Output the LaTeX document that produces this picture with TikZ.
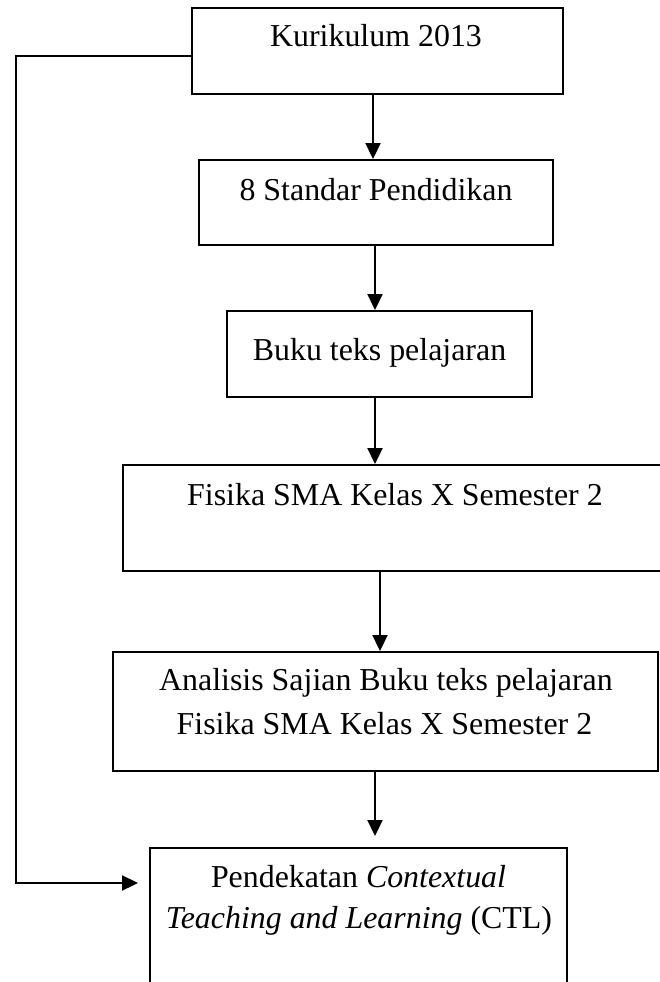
\documentclass[tikz,border=0pt]{standalone}
\usepackage{fontspec}
\setmainfont{Liberation Serif}
\usetikzlibrary{arrows.meta}
\begin{document}
\begin{tikzpicture}[x=1pt,y=-1pt,
  box/.style={draw,line width=1.9pt,inner sep=0pt,rectangle},
  lbl/.style={anchor=base,inner sep=0pt,font=\fontsize{31.9}{38}\selectfont},
  arr/.style={line width=1.9pt,-{Triangle[length=16pt,width=15pt]}}]
\useasboundingbox (0,0) rectangle (659,982);
% boxes
\node[box,minimum width=371pt,minimum height=86pt] (b1) at (377.5,51) {};
\node[box,minimum width=354pt,minimum height=85pt] (b2) at (376,202.5) {};
\node[box,minimum width=305pt,minimum height=86pt] (b3) at (379.5,354) {};
\node[box,minimum width=557pt,minimum height=106pt] (b4) at (401.5,518) {};
\node[box,minimum width=545pt,minimum height=119pt] (b5) at (385.5,711.5) {};
\node[box,minimum width=417pt,minimum height=152pt] (b6) at (358.5,924) {};
% labels
\node[lbl] (t1) at (376,47) {Kurikulum 2013};
\node[lbl] (t2) at (376,200) {8 Standar Pendidikan};
\node[lbl] (t3) at (379.5,360) {Buku teks pelajaran};
\node[lbl] (t4) at (395,505) {Fisika SMA Kelas X Semester 2};
\node[lbl] (t5a) at (386,690) {Analisis Sajian Buku teks pelajaran};
\node[lbl] (t5b) at (384.5,734) {Fisika SMA Kelas X Semester 2};
\node[lbl] (t6a) at (358.5,887) {Pendekatan \textit{Contextual}};
\node[lbl] (t6b) at (359,928) {\textit{Teaching and Learning} (CTL)};
% connectors
\draw[arr] (b1.south -| 373,0) -- (b2.north -| 373,0);
\draw[arr] (b2.south -| 375,0) -- (b3.north -| 375,0);
\draw[arr] (b3.south -| 375,0) -- (b4.north -| 375,0);
\draw[arr] (b4.south -| 380,0) -- (b5.north -| 380,0);
\draw[arr] (b5.south -| 375,0) -- ([yshift=11pt]b6.north -| 375,0);
\draw[arr] ([yshift=-5pt]b1.west) -| (16,883) -- ([xshift=-11pt]b6.west |- 0,883);
\end{tikzpicture}
\end{document}
